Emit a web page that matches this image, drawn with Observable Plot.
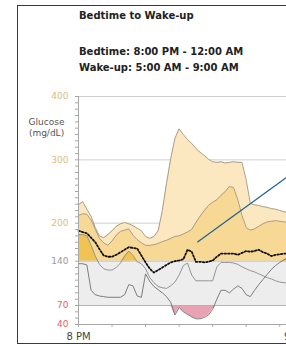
<!DOCTYPE html>
<html>
<head>
<meta charset="utf-8">
<script src="https://cdn.jsdelivr.net/npm/d3@7"></script>
<script src="https://cdn.jsdelivr.net/npm/@observablehq/plot@0.6"></script>
<style>
  html, body { margin: 0; padding: 0; overflow: hidden; background: #fff; width: 286px; height: 346px; }
  #frame { position: absolute; left: 17px; top: 5px; width: 420px; height: 339px; box-sizing: border-box; border: 1px solid #3a3a3a; pointer-events: none; z-index: 2; }
  .hd { position: absolute; left: 79px; font-family: "DejaVu Sans", sans-serif; font-size: 10px; line-height: 12px; color: #222; white-space: nowrap; font-weight: bold; }
  #chart { position: absolute; left: 0; top: 86px; width: 336px; }
  #chart svg { max-width: none !important; width: 336px !important; height: 260px !important; }
</style>
</head>
<body>
<div id="frame"></div>
<div class="hd" style="top:9.5px">Bedtime to Wake-up</div>
<div class="hd" style="top:45.5px">Bedtime: 8:00 PM - 12:00 AM</div>
<div class="hd" style="top:61.5px">Wake-up: 5:00 AM - 9:00 AM</div>
<div id="chart"></div>
<script>
// hours after 8 PM
const hours = [0,0.25,0.5,0.75,1,1.25,1.5,1.75,2,2.25,2.5,2.75,3,3.25,3.5,3.75,4,4.25,4.5,4.75,5,5.25,5.5,5.75,6,6.25,6.5,6.75,7,7.25,7.5,7.75,8,8.25,8.5,8.75,9,9.25,9.5,9.75,10,10.25,10.5,10.75,11,11.25,11.5,11.75,12,12.25,12.5];
const p90 = [229,234,222,211,193,180,177,182,188,195,199,201,199,196,192,188,179,176,179,188,220,263,302,334,349,340,332,326,318,312,307,301,297,296,297,295,296,297,296,296,268,231,229,228,226,225,223,222,220,218,217];
const p75 = [212,215,214,205,190,176,169,165,172,181,187,189,191,181,174,169,165,165,166,168,171,173,176,179,180,183,186,190,201,211,220,228,233,237,244,250,258,256,237,212,193,189,191,195,199,202,203,204,203,202,201];
const median = [188,186,184,177,170,159,149,147,147,150,154,158,162,161,160,149,138,128,122,126,130,134,138,140,141,143,158,155,139,139,138,139,141,147,152,152,152,152,150,153,156,155,156,158,154,152,148,150,151,152,152];
const p25 = [182,182,180,165,148,135,128,126,126,130,137,148,156,149,139,136,128,114,106,100,98,97,101,107,118,133,137,118,109,109,109,109,109,131,138,138,138,137,135,131,128,125,123,120,117,114,112,109,107,106,105];
const p10 = [136,136,134,94,87,85,84,83,83,83,83,87,103,101,85,83,120,108,100,95,90,84,75,55,67,60,56,52,49,49,51,55,64,80,94,94,90,96,101,97,87,84,94,103,111,119,127,133,138,142,146];

const xDomain = [0, 13];
const yDomain = [40, 400];
const targetLow = 70, targetHigh = 140;
const gridValues = [200, 300, 400];
const yTickMinor = [40,50,60,70,80,90,100,110,120,130,140,150,160,170,180,190,200,210,220,230,240,250,260,270,280,290,300,310,320,330,340,350,360,370,380,390,400];
const yLabelsHigh = [400, 300, 200];
const yLabelsMid = [140];
const yLabelsLow = [70, 40];
const xTicks = [0, 2, 4, 6, 8, 10, 12];
const xLabelHours = [0, 13];
const xLabelTexts = ["8 PM", "9 AM"];
const callout = [{x1: 7.08, y1: 170, x2: 14, y2: 303}];

const rows = hours.map((h, i) => ({h, p90: p90[i], p75: p75[i], med: median[i], p25: p25[i], p10: p10[i]}));
const xLabels = xLabelHours.map((h, i) => ({h, label: xLabelTexts[i]}));

const pale = "#fbe8c0", mid = "#f7d995", gold = "#f0c352";
const hi = v => Math.max(targetHigh, v);

const chart = Plot.plot({
  width: 336,
  height: 260,
  marginTop: 10,
  marginBottom: 22,
  marginLeft: 78,
  marginRight: 40,
  x: {domain: xDomain, axis: null},
  y: {domain: yDomain, axis: null},
  style: {fontFamily: "DejaVu Sans, sans-serif", fontSize: "9px", background: "transparent", overflow: "visible", maxWidth: "none"},
  marks: [
    Plot.rect([{}], {x1: xDomain[0], x2: xDomain[1], y1: targetLow, y2: targetHigh, fill: "#ededed"}),
    Plot.ruleY(gridValues, {x1: xDomain[0], x2: xDomain[1], stroke: "#cfcfcf", strokeWidth: 1}),
    Plot.areaY(rows, {x: "h", y1: d => hi(d.p75), y2: d => hi(d.p90), fill: pale}),
    Plot.areaY(rows, {x: "h", y1: d => hi(d.p25), y2: d => hi(d.p75), fill: mid}),
    Plot.areaY(rows, {x: "h", y1: d => hi(d.p10), y2: d => hi(d.p25), fill: gold}),
    Plot.areaY(rows, {x: "h", y1: d => Math.min(targetLow, d.p10), y2: targetLow, fill: "#e8a2b4"}),
    Plot.ruleY([targetHigh], {x1: xDomain[0], x2: xDomain[1], stroke: "#c4c4c4", strokeWidth: 1}),
    Plot.ruleY([targetLow], {x1: xDomain[0], x2: xDomain[1], stroke: "#e49aa6", strokeWidth: 1.2}),
    Plot.line(rows, {x: "h", y: "p90", stroke: "#a29580", strokeWidth: 0.9}),
    Plot.line(rows, {x: "h", y: "p75", stroke: "#a29580", strokeWidth: 0.9}),
    Plot.line(rows, {x: "h", y: "p25", stroke: "#8a8a8a", strokeWidth: 0.9}),
    Plot.line(rows, {x: "h", y: "p10", stroke: "#707070", strokeWidth: 0.9}),
    Plot.line(rows, {x: "h", y: "med", stroke: "#111", strokeWidth: 1.8, strokeDasharray: "1.6,1.9"}),
    Plot.link(callout, {x1: "x1", y1: "y1", x2: "x2", y2: "y2", stroke: "#1d6190", strokeWidth: 1.2}),
    // axes
    Plot.ruleX([xDomain[0]], {y1: yDomain[0], y2: yDomain[1], stroke: "#a8a8a8"}),
    Plot.ruleY([yDomain[0]], {x1: xDomain[0], x2: xDomain[1], stroke: "#a8a8a8"}),
    Plot.ruleY(yTickMinor, {x1: -0.18, x2: xDomain[0], stroke: "#a8a8a8"}),
    Plot.ruleX(xTicks, {y1: yDomain[0], y2: 35.5, stroke: "#a8a8a8"}),
    Plot.text(yLabelsHigh, {x: xDomain[0], y: d => d, text: d => String(d), textAnchor: "end", dx: -10, fill: "#d9bd7c"}),
    Plot.text(yLabelsMid, {x: xDomain[0], y: d => d, text: d => String(d), textAnchor: "end", dx: -10, fill: "#9a9a9a"}),
    Plot.text(yLabelsLow, {x: xDomain[0], y: d => d, text: d => String(d), textAnchor: "end", dx: -10, fill: "#e0606e"}),
    Plot.text(["Glucose\n(mg/dL)"], {x: xDomain[0], y: 352, text: d => d, textAnchor: "middle", dx: -32, fill: "#555", lineHeight: 1.25}),
    Plot.text(xLabels, {x: "h", y: yDomain[0], text: "label", dy: 12, fill: "#444", fontSize: 10})
  ]
});
document.getElementById("chart").appendChild(chart);
</script>
</body>
</html>
